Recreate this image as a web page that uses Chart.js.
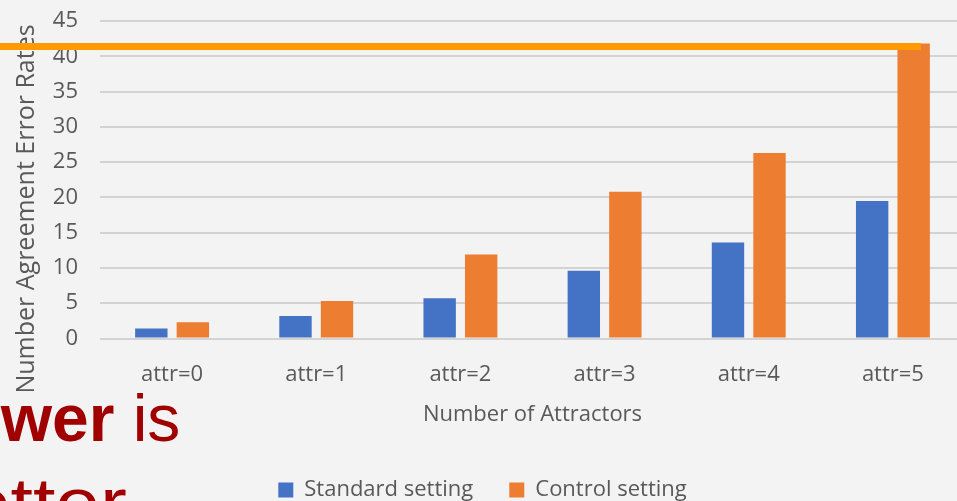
<!DOCTYPE html>
<html>
<head>
<meta charset="utf-8">
<script src="https://cdn.jsdelivr.net/npm/chart.js@4.4.1/dist/chart.umd.min.js"></script>
<style>
  html, body { margin: 0; padding: 0; width: 957px; height: 501px; overflow: hidden; background: #f3f3f3; }
  #wrap { position: absolute; left: 0; top: 0; width: 975px; height: 511px; }
  .note { position: absolute; color: #a00000; font-family: "Liberation Sans", Arial, sans-serif; white-space: nowrap; line-height: 1; }
</style>
</head>
<body>
<div id="wrap"><canvas id="c" width="975" height="511" style="width:975px;height:511px"></canvas></div>
<div class="note" style="left:-80px; top:385px; font-size:66px;"><b>Lower</b> is</div>
<div class="note" style="left:-79px; top:468px; font-size:70px; transform:scaleX(1.15); transform-origin:0 0;">better</div>
<script>
// Error rates per number of attractors
const categories = ['attr=0', 'attr=1', 'attr=2', 'attr=3', 'attr=4', 'attr=5'];
const standardSetting = [1.4, 3.2, 5.7, 9.6, 13.6, 19.5];
const controlSetting = [2.3, 5.3, 11.9, 20.8, 26.3, 41.8];
const seriesNames = ['Standard setting', 'Control setting'];
const yTicks = [0, 5, 10, 15, 20, 25, 30, 35, 40, 45];
const xAxisTitle = 'Number of Attractors';
const yAxisTitle = 'Number Agreement Error Rates';
const highlightLevel = 41.4;

const FONT = '"Open Sans", "DejaVu Sans", sans-serif';
const TEXT = '#595959';

// Vertical axis title and the highlight line across the top bar
const overlay = {
  id: 'overlay',
  afterDraw(chart) {
    const { ctx, scales: { y } } = chart;
    ctx.save();
    ctx.fillStyle = TEXT;
    ctx.font = '25px ' + FONT;
    ctx.textAlign = 'center';
    ctx.textBaseline = 'alphabetic';
    ctx.translate(34, 209);
    ctx.rotate(-Math.PI / 2);
    ctx.fillText(yAxisTitle, 0, 0);
    ctx.restore();

    const meta = chart.getDatasetMeta(1);
    const last = meta.data[meta.data.length - 1];
    const yPix = y.getPixelForValue(highlightLevel);
    ctx.save();
    ctx.strokeStyle = '#ff9a00';
    ctx.lineWidth = 7;
    ctx.beginPath();
    ctx.moveTo(0, yPix);
    ctx.lineTo(last.x + last.width / 2 - 9, yPix);
    ctx.stroke();
    ctx.restore();
  }
};

new Chart(document.getElementById('c'), {
  type: 'bar',
  data: {
    labels: categories,
    datasets: [
      { label: seriesNames[0], data: standardSetting, backgroundColor: '#4472c4', borderWidth: 0 },
      { label: seriesNames[1], data: controlSetting, backgroundColor: '#ed7d31', borderWidth: 0 }
    ]
  },
  options: {
    responsive: false,
    animation: false,
    devicePixelRatio: 1,
    categoryPercentage: 0.576,
    barPercentage: 0.78,
    layout: { padding: { left: 0, right: 10, top: 21, bottom: 0 } },
    plugins: {
      tooltip: { enabled: false },
      legend: {
        position: 'bottom',
        labels: {
          color: TEXT,
          font: { family: FONT, size: 22 },
          boxWidth: 15,
          boxHeight: 15,
          padding: 36
        }
      }
    },
    scales: {
      x: {
        grid: { display: false },
        border: { display: false },
        ticks: { color: TEXT, font: { family: FONT, size: 22 }, padding: 15 },
        title: {
          display: true,
          text: xAxisTitle,
          color: TEXT,
          font: { family: FONT, size: 22 },
          padding: { top: 0, bottom: 15 }
        },
        afterFit(scale) { scale.height = 104.5; }
      },
      y: {
        min: 0,
        max: 45,
        grid: { color: '#d3d3d3', lineWidth: 2, drawTicks: false },
        border: { display: false },
        ticks: { color: TEXT, font: { family: FONT, size: 22 }, padding: 22, stepSize: 5 },
        afterBuildTicks(scale) { scale.ticks = yTicks.map(v => ({ value: v })); },
        afterFit(scale) {
          scale.width = 100;
          scale.paddingTop = 0;
          scale.paddingBottom = 0;
        }
      }
    }
  },
  plugins: [overlay]
});
</script>
</body>
</html>
